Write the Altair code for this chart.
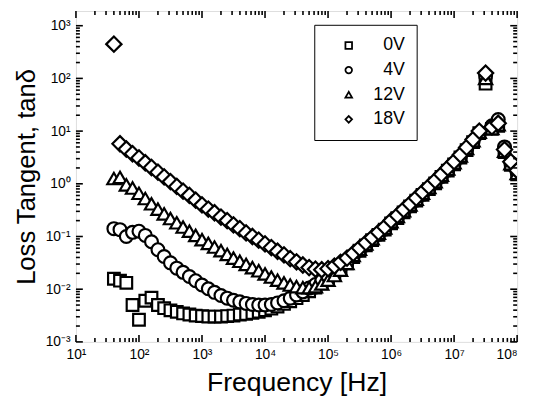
import altair as alt
import pandas as pd

# ---------------- data ----------------
FREQ = [40, 50, 63, 79,
        100, 126, 158, 200, 251, 316, 398, 501, 631, 794,
        1e3, 1.26e3, 1.58e3, 2e3, 2.51e3, 3.16e3, 3.98e3, 5.01e3, 6.31e3, 7.94e3,
        1e4, 1.26e4, 1.58e4, 2e4, 2.51e4, 3.16e4, 3.98e4, 5.01e4, 6.31e4, 7.94e4,
        1e5, 1.26e5, 1.58e5, 2e5, 2.51e5, 3.16e5, 3.98e5, 5.01e5, 6.31e5, 7.94e5,
        1e6, 1.26e6, 1.58e6, 2e6, 2.51e6, 3.16e6, 3.98e6, 5.01e6, 6.31e6, 7.94e6,
        1e7, 1.26e7, 1.58e7, 2e7, 2.51e7, 3.16e7, 3.98e7, 5.01e7, 6.31e7, 7.94e7,
        1e8]

TAN_0V = [0.0158, 0.0145, 0.0132, 0.00501,
          0.00263, 0.00603, 0.00692, 0.00501, 0.00437, 0.00398, 0.00372, 0.00347, 0.00331, 0.00316,
          0.00309, 0.00302, 0.00302, 0.00302, 0.00309, 0.00316, 0.00331, 0.00339, 0.00355, 0.00372,
          0.00398, 0.00427, 0.00468, 0.00525, 0.00589, 0.00676, 0.00776, 0.00912, 0.0107, 0.0129,
          0.0155, 0.0191, 0.0240, 0.0309, 0.0407, 0.0537, 0.0676, 0.0851, 0.107, 0.135,
          0.178, 0.224, 0.288, 0.372, 0.479, 0.617, 0.794, 1.02, 1.35, 1.78,
          2.34, 3.16, 4.37, 6.17, 9.12, 79.4, 11.0, 12.6, 3.98, 2.29,
          1.51]

TAN_4V = [0.141, 0.135, 0.100, 0.120,
          0.126, 0.105, 0.0794, 0.0562, 0.0417, 0.0316, 0.0251, 0.0209, 0.0174, 0.0145,
          0.0120, 0.0102, 0.00871, 0.00759, 0.00676, 0.00617, 0.00575, 0.00537, 0.00513, 0.00501,
          0.00501, 0.00513, 0.00550, 0.00603, 0.00676, 0.00776, 0.00891, 0.0105, 0.0123, 0.0145,
          0.0174, 0.0209, 0.0257, 0.0324, 0.0427, 0.0550, 0.0692, 0.0871, 0.110, 0.138,
          0.182, 0.229, 0.295, 0.380, 0.490, 0.631, 0.813, 1.05, 1.38, 1.82,
          2.40, 3.24, 4.47, 6.31, 9.33, 112, 12.6, 16.6, 5.01, 2.51,
          1.66]

TAN_12V = [1.26, 1.32, 0.955, 0.832,
           0.661, 0.525, 0.417, 0.331, 0.269, 0.219, 0.182, 0.151, 0.126, 0.105,
           0.0871, 0.0741, 0.0631, 0.0537, 0.0457, 0.0389, 0.0339, 0.0295, 0.0257, 0.0224,
           0.0195, 0.0170, 0.0148, 0.0132, 0.0120, 0.0112, 0.0107, 0.0107, 0.0112, 0.0126,
           0.0148, 0.0182, 0.0229, 0.0309, 0.0437, 0.0575, 0.0724, 0.0912, 0.115, 0.145,
           0.191, 0.240, 0.309, 0.398, 0.513, 0.661, 0.851, 1.10, 1.45, 1.91,
           2.51, 3.39, 4.68, 6.61, 9.55, 100, 11.2, 13.2, 4.17, 2.40,
           1.58]

TAN_18V = [447, 5.75, 4.57, 3.72,
           3.09, 2.51, 2.04, 1.66, 1.35, 1.10, 0.891, 0.724, 0.603, 0.490,
           0.398, 0.331, 0.282, 0.234, 0.200, 0.166, 0.141, 0.117, 0.100, 0.0851,
           0.0724, 0.0617, 0.0525, 0.0447, 0.0380, 0.0331, 0.0288, 0.0257, 0.0240, 0.0234,
           0.0245, 0.0275, 0.0324, 0.0389, 0.0479, 0.0603, 0.0759, 0.0955, 0.120, 0.151,
           0.200, 0.251, 0.324, 0.417, 0.537, 0.692, 0.891, 1.15, 1.51, 2.00,
           2.63, 3.55, 4.90, 6.92, 10.0, 126, 12.0, 14.1, 4.47, 2.63,
           1.78]

SERIES = ["0V", "4V", "12V", "18V"]
SHAPES = ["square", "circle", "triangle-up", "diamond"]
SIZES = [140, 170, 180, 240]

X_TICKS = [1e1, 1e2, 1e3, 1e4, 1e5, 1e6, 1e7, 1e8]
Y_TICKS = [1e-3, 1e-2, 1e-1, 1e0, 1e1, 1e2, 1e3]
X_DOMAIN = [10, 1e8]
Y_DOMAIN = [1e-3, 1.9e3]

# ---------------- layout / style ----------------
W, H = 448, 336
FONT = "Liberation Sans"

rows = []
for name, vals in zip(SERIES, [TAN_0V, TAN_4V, TAN_12V, TAN_18V]):
    for f, v in zip(FREQ, vals):
        rows.append({"freq": f, "tan": v, "series": name})
df = pd.DataFrame(rows)

SUP = {"-": "\u207b", "0": "\u2070", "1": "\u00b9", "2": "\u00b2", "3": "\u00b3",
       "4": "\u2074", "5": "\u2075", "6": "\u2076", "7": "\u2077", "8": "\u2078", "9": "\u2079"}


def label_expr(exps):
    expr = "''"
    for e in reversed(exps):
        s = "10" + "".join(SUP[c] for c in str(e))
        expr = f"(round(log(datum.value)/LN10) == {e}) ? '{s}' : ({expr})"
    return expr


xs = alt.Scale(type="log", domain=X_DOMAIN, nice=False)
ys = alt.Scale(type="log", domain=Y_DOMAIN, nice=False)

X_AX = alt.Axis(values=X_TICKS, labelExpr=label_expr(list(range(1, 9))),
                title="Frequency [Hz]", grid=False, ticks=False, domain=False,
                labelFont=FONT, labelFontSize=14, labelColor="black", labelPadding=6,
                labelAlign={"condition": {"test": "datum.value >= 1e8", "value": "right"},
                            "value": "center"},
                titleFont=FONT, titleFontSize=27, titleFontWeight="normal",
                titleColor="black", titlePadding=8, labelFlush=False)
Y_AX = alt.Axis(values=Y_TICKS, labelExpr=label_expr(list(range(-3, 4))),
                title="Loss Tangent, tan\u03b4", grid=False, ticks=False, domain=False,
                labelFont=FONT, labelFontSize=14, labelColor="black", labelPadding=6,
                titleFont=FONT, titleFontSize=26, titleFontWeight="normal",
                titleColor="black", titlePadding=6, labelFlush=False)

shape_enc = alt.Shape(
    "series:N",
    scale=alt.Scale(domain=SERIES, range=SHAPES),
    legend=alt.Legend(orient="none", legendX=242, legendY=14, title=None,
                      strokeColor="black", fillColor="white", padding=12,
                      symbolSize=45, symbolStrokeWidth=1.8,
                      symbolOffset=14, labelOffset=48, labelAlign="right",
                      labelFont=FONT, labelFontSize=18, labelColor="black",
                      rowPadding=7),
)

layers = []
for name, size in zip(SERIES, SIZES):
    layers.append(
        alt.Chart(df).transform_filter(alt.datum.series == name)
        .mark_point(filled=False, color="black", fill="white", fillOpacity=1,
                    strokeWidth=2.2, opacity=1, size=size, clip=True)
        .encode(x=alt.X("freq:Q", scale=xs, axis=X_AX),
                y=alt.Y("tan:Q", scale=ys, axis=Y_AX),
                shape=shape_enc)
    )

# inward ticks on all four sides
x_major = pd.DataFrame({"freq": X_TICKS})
x_minor = pd.DataFrame({"freq": [m * 10 ** k for k in range(1, 8) for m in range(2, 10)]})
y_major = pd.DataFrame({"tan": Y_TICKS})
y_minor = pd.DataFrame({"tan": [m * 10.0 ** k for k in range(-3, 3) for m in range(2, 10)]})

tick_layers = []
for dfx, ln in [(x_major, 7), (x_minor, 4)]:
    tick_layers.append(alt.Chart(dfx).mark_rule(color="black", strokeWidth=1.6).encode(
        x=alt.X("freq:Q", scale=xs, axis=X_AX), y=alt.value(H), y2=alt.value(H - ln)))
    tick_layers.append(alt.Chart(dfx).mark_rule(color="black", strokeWidth=1.6).encode(
        x=alt.X("freq:Q", scale=xs, axis=X_AX), y=alt.value(0), y2=alt.value(ln)))
for dfy, ln in [(y_major, 7), (y_minor, 4)]:
    tick_layers.append(alt.Chart(dfy).mark_rule(color="black", strokeWidth=1.6).encode(
        y=alt.Y("tan:Q", scale=ys, axis=Y_AX), x=alt.value(0), x2=alt.value(ln)))
    tick_layers.append(alt.Chart(dfy).mark_rule(color="black", strokeWidth=1.6).encode(
        y=alt.Y("tan:Q", scale=ys, axis=Y_AX), x=alt.value(W), x2=alt.value(W - ln)))

chart = alt.layer(*layers, *tick_layers).properties(
    width=W, height=H,
    autosize=alt.AutoSizeParams(type="none"),
    padding={"left": 69, "top": 0, "right": 8, "bottom": 60},
).configure_view(stroke="black", strokeWidth=2.2).configure(background="white")

chart.save("out.html", embed_options={"renderer": "svg", "actions": False})
